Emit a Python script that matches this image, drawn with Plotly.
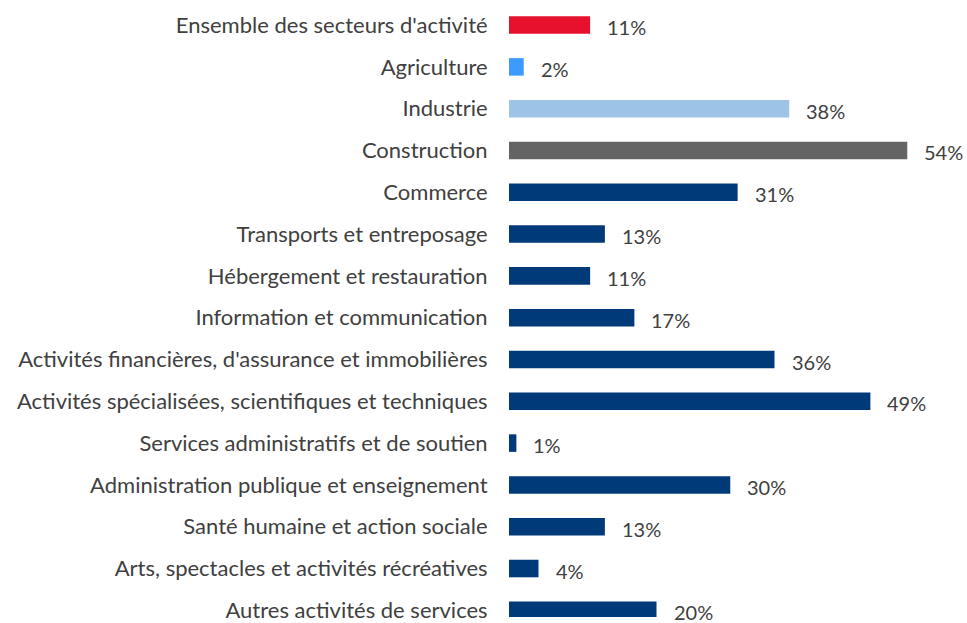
import plotly.graph_objects as go

categories = [
    "Ensemble des secteurs d'activité",
    "Agriculture",
    "Industrie",
    "Construction",
    "Commerce",
    "Transports et entreposage",
    "Hébergement et restauration",
    "Information et communication",
    "Activités financières, d'assurance et immobilières",
    "Activités spécialisées, scientifiques et techniques",
    "Services administratifs et de soutien",
    "Administration publique et enseignement",
    "Santé humaine et action sociale",
    "Arts, spectacles et activités récréatives",
    "Autres activités de services",
]
values = [11, 2, 38, 54, 31, 13, 11, 17, 36, 49, 1, 30, 13, 4, 20]
colors = ["#E8112D", "#3D9BFF", "#9DC3E6", "#646464"] + ["#003A78"] * 11

fig = go.Figure()
fig.add_trace(go.Bar(
    x=values, y=categories, orientation="h",
    marker=dict(color=colors, line=dict(width=0)),
    width=0.42,
    hoverinfo="skip",
))
for c, v in zip(categories, values):
    fig.add_annotation(x=v, y=c, text=f"{v}%", showarrow=False,
                       xanchor="left", xshift=15, yshift=-2,
                       font=dict(family="Lato", size=20, color="#404040"))

fig.update_layout(
    width=967, height=623,
    margin=dict(l=509, r=0, t=0, b=0),
    paper_bgcolor="white", plot_bgcolor="white",
    showlegend=False,
    font=dict(family="Lato", size=22, color="#404040"),
    xaxis=dict(range=[0, 62.1], visible=False, showgrid=False, zeroline=False),
    yaxis=dict(type="category", range=[14.16, -0.6], showgrid=False, zeroline=False,
               ticks="outside", ticklen=16, tickcolor="rgba(0,0,0,0)",
               showline=False, tickfont=dict(family="Lato", size=22, color="#404040")),
)
fig.write_html("out.html", config={"displayModeBar": False},
               post_script="document.body.style.margin='0';document.body.style.overflow='hidden';")
